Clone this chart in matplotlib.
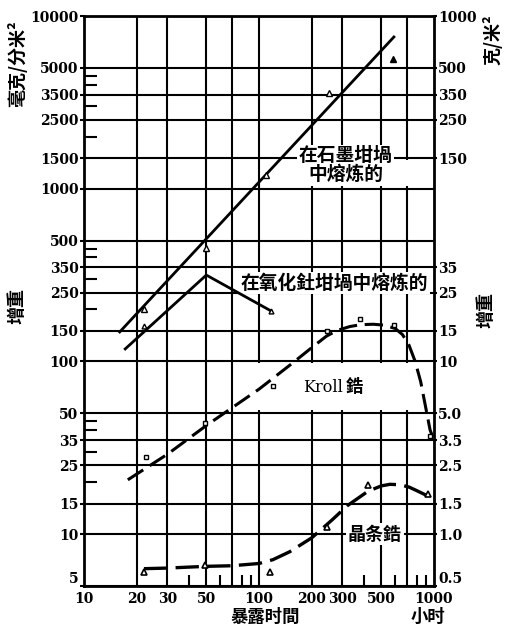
import matplotlib.pyplot as plt
from matplotlib.patches import Rectangle
from matplotlib.ticker import FixedLocator, NullFormatter, NullLocator

CJK = ['Noto Sans CJK SC', 'DejaVu Sans']
plt.rcParams['font.family'] = ['DejaVu Serif']
plt.rcParams['font.weight'] = 'bold'

# exposure time, hours
x_ticks = [10, 20, 30, 50, 100, 200, 300, 500, 1000]
x_grid = [20, 30, 50, 70, 100, 200, 300, 500, 700]
x_minor = [40, 60, 80, 90, 400, 600, 800, 900]

# weight gain, mg/dm^2 on the left, g/m^2 on the right
y_left_ticks = [5, 10, 15, 25, 35, 50, 100, 150, 250, 350, 500,
                1000, 1500, 2500, 3500, 5000, 10000]
y_left_minor = [20, 30, 40, 45, 200, 300, 400, 450, 2000, 3000, 4000, 4500]
y_right_ticks = [0.5, 1.0, 1.5, 2.5, 3.5, 5.0, 10, 15, 25, 35,
                 150, 250, 350, 500, 1000]
y_right_labels = ['0.5', '1.0', '1.5', '2.5', '3.5', '5.0', '10', '15', '25', '35',
                  '150', '250', '350', '500', '1000']

# melted in graphite crucible
graphite_line_x = [16, 590]
graphite_line_y = [148, 7560]
graphite_x = [22, 50, 110, 250]
graphite_y = [200, 455, 1200, 3600]
graphite_last_x = [580]
graphite_last_y = [5600]

# melted in thoria crucible
thoria_x = [17.2, 50, 117]
thoria_y = [118, 316, 196]
thoria_pts_x = [22, 117]
thoria_pts_y = [160, 196]

# Kroll zirconium
kroll_x = [17.8, 30, 50, 100, 156, 200, 243, 280, 330, 380, 450, 520, 600,
           660, 720, 780, 840, 900, 950, 1000]
kroll_y = [20.6, 29, 42.5, 69, 98, 120, 140, 151, 159, 163, 164, 162, 155,
           143, 124, 100, 76, 53, 40, 35]
kroll_pts_x = [22.5, 49, 120, 245, 377, 590, 950]
kroll_pts_y = [28, 44, 72, 150, 175, 162, 37]

# crystal bar zirconium
bar_x = [22, 30, 50, 70, 100, 120, 150, 200, 260, 320, 420, 500, 560, 640,
         720, 800, 900]
bar_y = [6.3, 6.35, 6.5, 6.55, 6.75, 7.1, 7.9, 9.5, 12.0, 14.6, 17.7, 19.0,
         19.4, 19.3, 18.7, 17.8, 16.8]
bar_pts_x = [22, 49, 115, 245, 420, 920]
bar_pts_y = [6.0, 6.6, 6.0, 11, 19.1, 17]

fig = plt.figure(figsize=(5.05, 6.26), dpi=100)
ax = fig.add_axes([84 / 505, 40 / 626, 350 / 505, 570 / 626])
ax.set_xscale('log')
ax.set_yscale('log')
ax.set_xlim(10, 1000)
ax.set_ylim(5, 10000)

for xv in x_grid:
    ax.axvline(xv, color='black', lw=1.5, zorder=1)
for yv in y_left_ticks:
    ax.axhline(yv, color='black', lw=1.5, zorder=1)

# blank bands behind the Kroll and graphite labels
ax.add_patch(Rectangle((96, 52), 880, 46, fc='white', ec='none', zorder=1.5))
ax.add_patch(Rectangle((150, 1030), 800, 440, fc='white', ec='none', zorder=1.5))

lw = 2.0
ax.plot(graphite_line_x, graphite_line_y, color='black', lw=lw, zorder=3)
ax.plot(graphite_x, graphite_y, ls='none', marker='^', ms=4, mfc='white',
        mec='black', mew=1.0, zorder=4)
ax.plot(graphite_last_x, graphite_last_y, ls='none', marker='^', ms=5,
        color='black', zorder=4)

ax.plot(thoria_x, thoria_y, color='black', lw=lw, zorder=3)
ax.plot(thoria_pts_x, thoria_pts_y, ls='none', marker='^', ms=3.5, mfc='white',
        mec='black', mew=1.0, zorder=4)

ax.plot(kroll_x, kroll_y, color='black', lw=2.2, dashes=(6, 2.5), zorder=3)
ax.plot(kroll_pts_x, kroll_pts_y, ls='none', marker='s', ms=3.5, mfc='white',
        mec='black', mew=1.0, zorder=4)

ax.plot(bar_x, bar_y, color='black', lw=2.4, dashes=(7, 2.5), zorder=3)
ax.plot(bar_pts_x, bar_pts_y, ls='none', marker='^', ms=5, mfc='white',
        mec='black', mew=1.2, zorder=4)

label_box = dict(boxstyle='square,pad=0.1', fc='white', ec='none')
ax.text(312, 1371, '在石墨坩堝\n中熔炼的', family=CJK, fontsize=13.5, weight='bold',
        ha='center', va='center', linespacing=0.95, bbox=label_box, zorder=2)
ax.text(268, 284, '在氧化釷坩堝中熔炼的', family=CJK, fontsize=13.5, weight='bold',
        ha='center', va='center', bbox=label_box, zorder=2)
ax.text(300, 71, 'Kroll', fontsize=11.5, weight='normal',
        ha='right', va='center', zorder=2)
ax.text(312, 71, '鋯', family=CJK, fontsize=12.5, weight='bold',
        ha='left', va='center', zorder=2)
ax.text(459, 10, '晶条鋯', family=CJK, fontsize=13, weight='bold',
        ha='center', va='center', bbox=label_box, zorder=2)

for side in ax.spines.values():
    side.set_linewidth(2)
    side.set_zorder(5)

ax.xaxis.set_major_locator(FixedLocator(x_ticks))
ax.set_xticklabels([str(v) for v in x_ticks])
ax.xaxis.set_minor_locator(FixedLocator(x_minor))
ax.xaxis.set_minor_formatter(NullFormatter())
ax.tick_params(axis='x', which='major', length=0, pad=4, labelsize=10)
ax.tick_params(axis='x', which='minor', direction='in', length=8, width=1.5)

ax.yaxis.set_major_locator(FixedLocator(y_left_ticks))
ax.set_yticklabels([str(v) for v in y_left_ticks])
ax.yaxis.set_minor_locator(FixedLocator(y_left_minor))
ax.yaxis.set_minor_formatter(NullFormatter())
ax.tick_params(axis='y', which='major', direction='out', length=3, width=1.5,
               pad=1, labelsize=10)
ax.tick_params(axis='y', which='minor', direction='in', length=9, width=1.5)

ax2 = ax.twinx()
ax2.set_yscale('log')
ax2.set_ylim(0.5, 1000)
ax2.yaxis.set_major_locator(FixedLocator(y_right_ticks))
ax2.set_yticklabels(y_right_labels)
ax2.yaxis.set_minor_locator(NullLocator())
ax2.tick_params(axis='y', direction='out', length=2, width=1.5, pad=1, labelsize=10)
for side in ax2.spines.values():
    side.set_visible(False)

# lowest labels sit just above the bottom spine, clear of the x labels
ax.get_yticklabels()[0].set_va('bottom')
ax2.get_yticklabels()[0].set_va('bottom')

fig.text(17 / 505, 1 - 64 / 626, '毫克/分米²', family=CJK, fontsize=13, weight='bold',
         rotation=90, ha='center', va='center')
fig.text(17 / 505, 1 - 306 / 626, '增重', family=CJK, fontsize=13, weight='bold',
         rotation=90, ha='center', va='center')
fig.text(492 / 505, 1 - 40 / 626, '克/米²', family=CJK, fontsize=13, weight='bold',
         rotation=90, ha='center', va='center')
fig.text(486 / 505, 1 - 310 / 626, '增重', family=CJK, fontsize=13, weight='bold',
         rotation=90, ha='center', va='center')
fig.text(265 / 505, 1 - 617 / 626, '暴露时間', family=CJK, fontsize=12.5, weight='bold',
         ha='center', va='center')
fig.text(428 / 505, 1 - 617 / 626, '小时', family=CJK, fontsize=12.5, weight='bold',
         ha='center', va='center')

fig.savefig('out.png', dpi=100)
